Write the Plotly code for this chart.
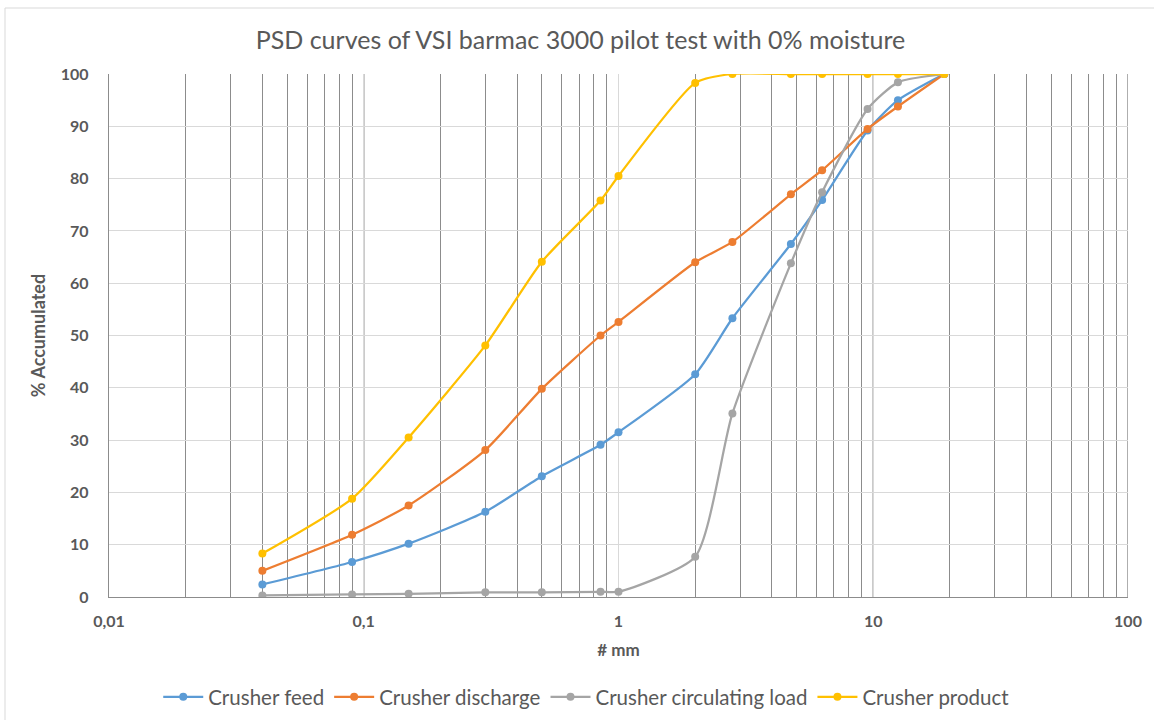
import plotly.graph_objects as go

sizes_mm = [0.04, 0.09, 0.15, 0.3, 0.5, 0.85, 1, 2, 2.8, 4.75, 6.3, 9.5, 12.5, 19]
crusher_feed = [2.4, 6.7, 10.2, 16.3, 23.1, 29.1, 31.5, 42.6, 53.3, 67.5, 75.9, 89.2, 95.0, 100]
crusher_discharge = [5.0, 11.9, 17.5, 28.1, 39.8, 50.0, 52.6, 64.0, 67.9, 77.0, 81.6, 89.5, 93.8, 100]
crusher_circulating = [0.3, 0.5, 0.6, 0.9, 0.9, 1.0, 1.0, 7.7, 35.1, 63.8, 77.4, 93.3, 98.4, 100]
crusher_product = [8.3, 18.8, 30.5, 48.1, 64.1, 75.8, 80.5, 98.3, 100, 100, 100, 100, 100, 100]

series_names = ["Crusher feed", "Crusher discharge", "Crusher circulating load", "Crusher product"]
series_values = [crusher_feed, crusher_discharge, crusher_circulating, crusher_product]
colors = ["#5B9BD5", "#ED7D31", "#A5A5A5", "#FFC000"]

x_tickvals = [0.01, 0.1, 1, 10, 100]
x_ticktext = ["0,01", "0,1", "1", "10", "100"]
y_tickvals = list(range(0, 101, 10))

FONT = "Lato, Roboto, sans-serif"
TXT = "#595959"

fig = go.Figure()
for name, vals, c in zip(series_names, series_values, colors):
    fig.add_trace(go.Scatter(
        x=sizes_mm, y=vals, name=name, mode="lines+markers",
        line=dict(color=c, width=2.25, shape="spline", smoothing=0.6),
        marker=dict(color=c, size=8),
    ))

W, H = 1154, 720
ml, mr, mt, mb = 109, 26, 74, 123
pw, ph = W - ml - mr, H - mt - mb

shapes = []
for xv in [0.1, 10, 100]:
    shapes.append(dict(type="line", xref="x", yref="paper", x0=xv, x1=xv, y0=0, y1=1,
                       line=dict(color="#8c8c8c", width=1.4), layer="below"))
shapes.append(dict(type="rect", xref="paper", yref="paper",
                   x0=(5 - ml) / pw, x1=(W + 5 - ml) / pw,
                   y0=(H - mb - (H + 5)) / ph, y1=(H - mb - 8) / ph,
                   line=dict(color="#d9d9d9", width=1), fillcolor="rgba(0,0,0,0)", layer="below"))

fig.update_layout(
    width=W, height=H,
    margin=dict(l=ml, r=mr, t=mt, b=mb, autoexpand=False),
    paper_bgcolor="white", plot_bgcolor="white",
    font=dict(family=FONT, color=TXT),
    title=dict(text="PSD curves of VSI barmac 3000 pilot test with 0% moisture",
               x=0.503, xanchor="center", y=1 - 40 / H, yanchor="middle",
               font=dict(family=FONT, size=25, color=TXT)),
    xaxis=dict(type="log", range=[-2, 2], tickvals=x_tickvals, ticktext=x_ticktext,
               automargin=False,
               showgrid=True, gridcolor="#d9d9d9", gridwidth=1.4,
               minor=dict(dtick="D1", showgrid=True, gridcolor="#8c8c8c", gridwidth=1.4, ticks=""),
               showline=True, linecolor="#8c8c8c", linewidth=1.4, mirror=False,
               ticks="", zeroline=False, ticklabelstandoff=10,
               tickfont=dict(family=FONT, size=16, color=TXT, weight="bold"),
               title=dict(text="# mm", standoff=14,
                          font=dict(family=FONT, size=17, color=TXT, weight="bold"))),
    yaxis=dict(range=[0, 100], tickvals=y_tickvals, automargin=False,
               showgrid=True, gridcolor="#d9d9d9", gridwidth=1.4,
               showline=True, linecolor="#8c8c8c", linewidth=1.4,
               ticks="", zeroline=False, ticklabelstandoff=16,
               tickfont=dict(family=FONT, size=16, color=TXT, weight="bold"),
               title=dict(text="% Accumulated", standoff=10,
                          font=dict(family=FONT, size=18, color=TXT, weight="bold"))),
    legend=dict(orientation="h", xref="container", yref="container",
                x=0.508, xanchor="center", y=1 - 697 / H, yanchor="middle",
                font=dict(family=FONT, size=20.5, color=TXT), itemwidth=40,
                traceorder="normal"),
    shapes=shapes,
    showlegend=True,
)

fig.write_html("out.html", config={"displayModeBar": False},
               post_script="document.body.style.margin='0';")
